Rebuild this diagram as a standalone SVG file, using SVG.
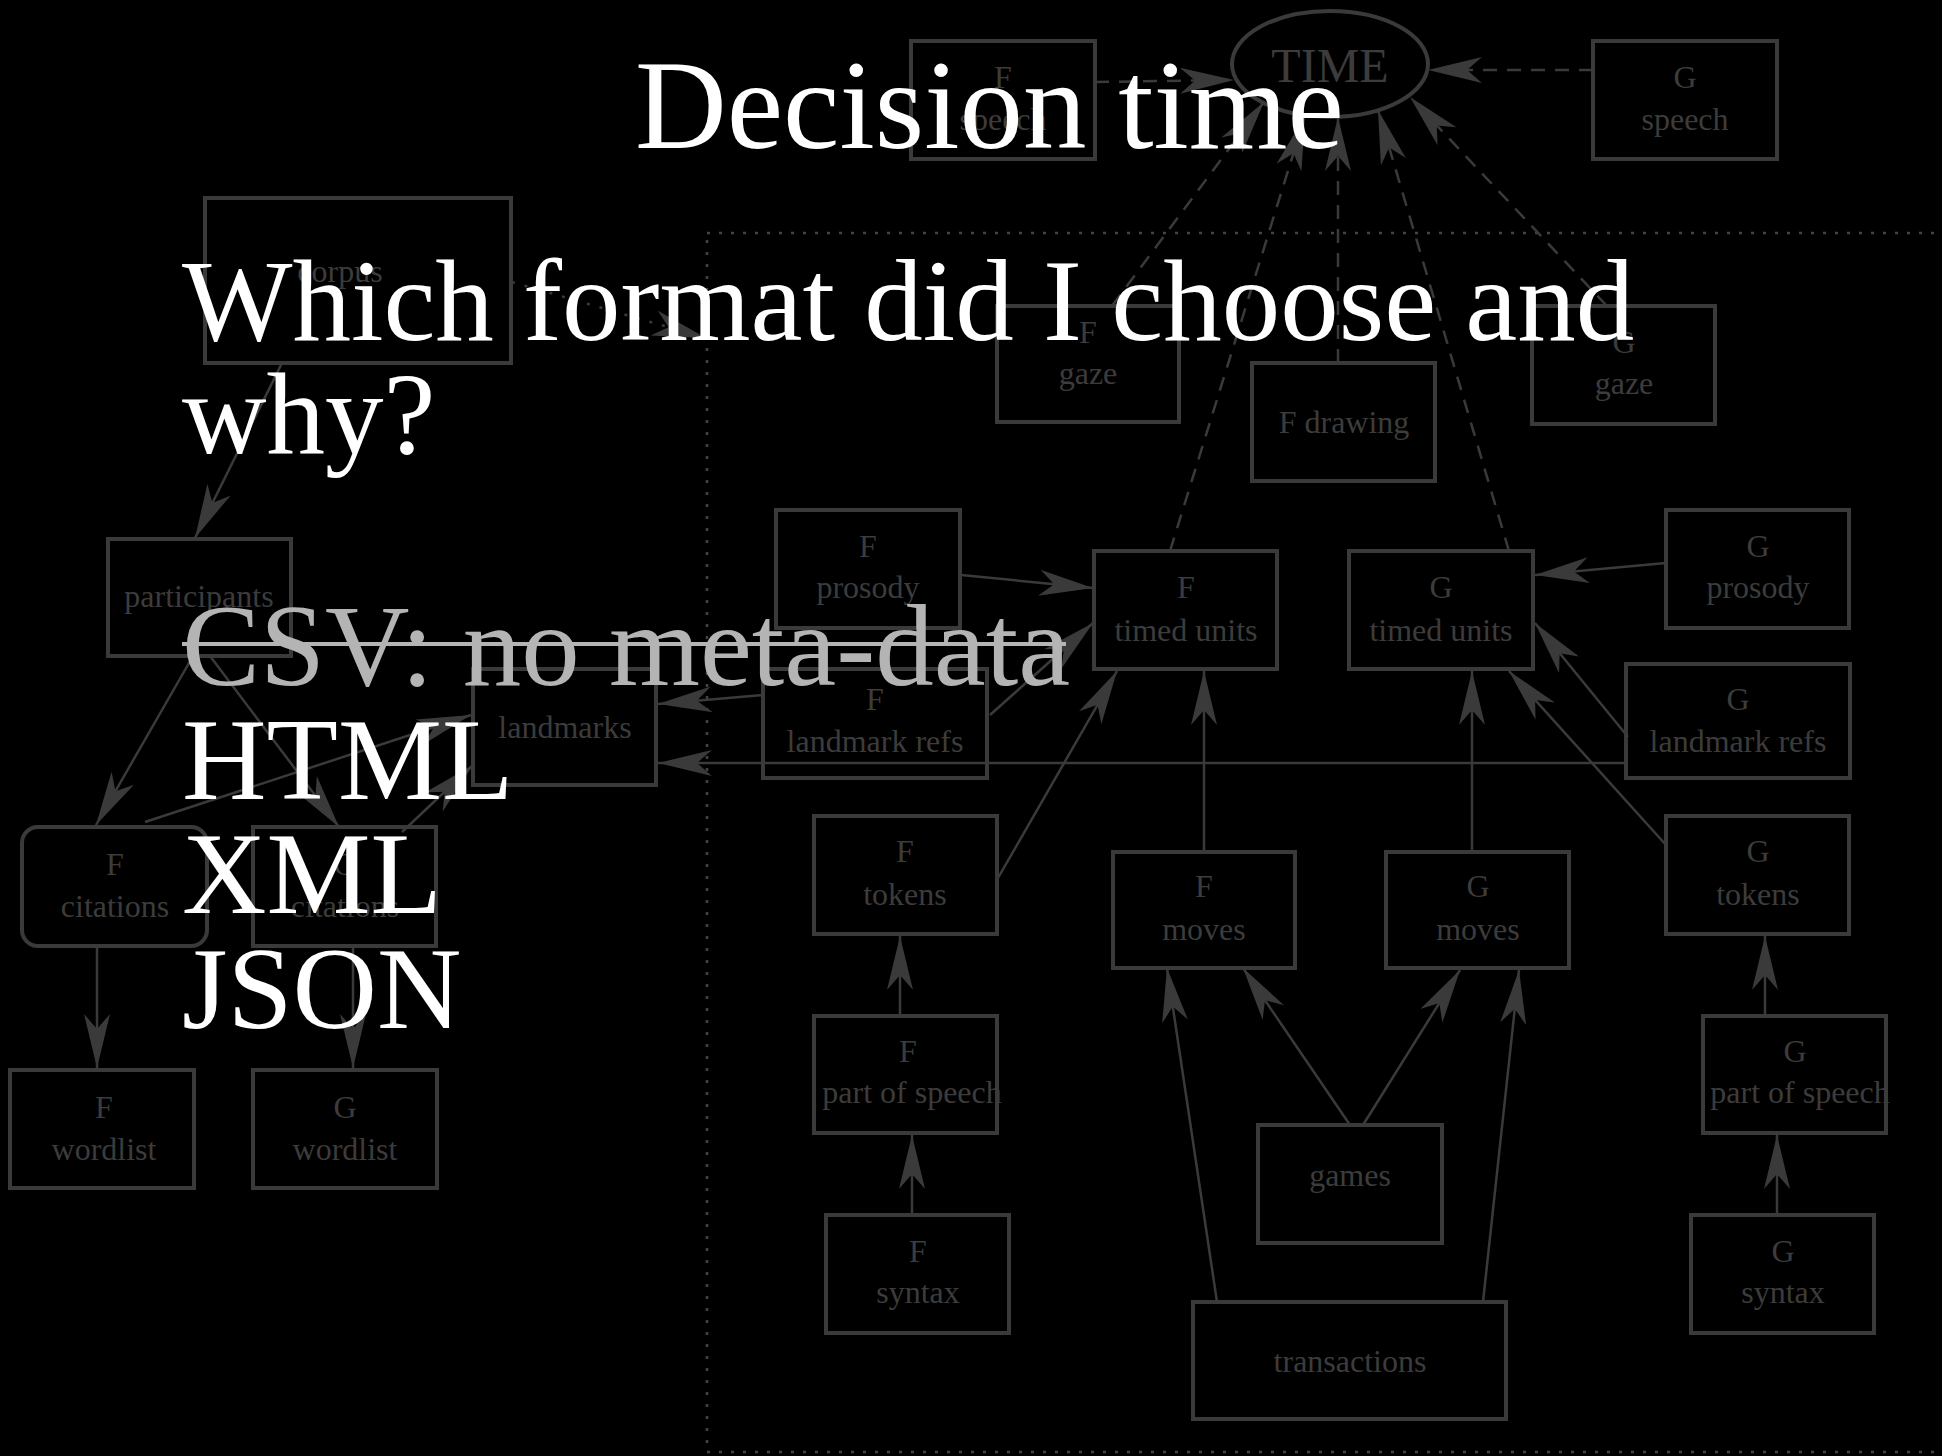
<svg xmlns="http://www.w3.org/2000/svg" width="1942" height="1456" viewBox="0 0 1942 1456">
<style>
.box{fill:none;stroke:#3a3a3a;stroke-width:4}
.lbl{font-family:"Liberation Serif",serif;font-size:32px;fill:#3c3c3c;text-anchor:middle}
.edge{stroke:#3a3a3a;stroke-width:2.5;fill:none;marker-end:url(#ah)}
.dash{stroke-dasharray:14 10}
.cluster{fill:none;stroke:#444;stroke-width:2.5;stroke-dasharray:3 9}
.main{font-family:"Liberation Serif",serif;fill:#fff;font-size:117px}
</style>
<defs>
<marker id="ah" markerUnits="userSpaceOnUse" viewBox="0 0 54 26" markerWidth="54" markerHeight="26" refX="54" refY="13" orient="auto">
<path d="M0,0 L54,13 L0,26 L15,13 Z" fill="#3a3a3a"/>
</marker>
</defs>
<rect x="0" y="0" width="1942" height="1456" fill="#000"/>

<rect id="cluster" class="cluster" x="707" y="233" width="1300" height="1219"/>

<g id="connectors">
<line class="edge dash" x1="1095" y1="82" x2="1234" y2="80"/>
<line class="edge dash" x1="1593" y1="70" x2="1428" y2="70"/>
<line class="edge dash" x1="1112" y1="306" x2="1264" y2="102"/>
<line class="edge dash" x1="1170" y1="551" x2="1305" y2="116"/>
<line class="edge dash" x1="1338" y1="363" x2="1338" y2="117"/>
<line class="edge dash" x1="1509" y1="551" x2="1378" y2="110"/>
<line class="edge dash" x1="1607" y1="306" x2="1410" y2="97"/>
<line class="edge" x1="282" y1="363" x2="195" y2="538"/>
<line class="edge" style="stroke-dasharray:3 10" x1="512" y1="282" x2="706" y2="338"/>
<line class="edge" x1="193" y1="656" x2="96" y2="825"/>
<line class="edge" x1="210" y1="656" x2="339" y2="827"/>
<line class="edge" x1="145" y1="822" x2="471" y2="715"/>
<line class="edge" x1="402" y1="832" x2="473" y2="765"/>
<line class="edge" x1="97" y1="946" x2="97" y2="1068"/>
<line class="edge" x1="353" y1="946" x2="353" y2="1068"/>
<line class="edge" x1="763" y1="695" x2="658" y2="704"/>
<line class="edge" x1="1626" y1="763" x2="658" y2="763"/>
<line class="edge" x1="961" y1="575" x2="1093" y2="588"/>
<line class="edge" x1="990" y1="715" x2="1093" y2="623"/>
<line class="edge" x1="998" y1="878" x2="1117" y2="671"/>
<line class="edge" x1="1204" y1="852" x2="1204" y2="671"/>
<line class="edge" x1="1666" y1="563" x2="1535" y2="575"/>
<line class="edge" x1="1628" y1="737" x2="1535" y2="623"/>
<line class="edge" x1="1666" y1="845" x2="1509" y2="671"/>
<line class="edge" x1="1472" y1="852" x2="1472" y2="671"/>
<line class="edge" x1="900" y1="1016" x2="900" y2="936"/>
<line class="edge" x1="912" y1="1215" x2="912" y2="1135"/>
<line class="edge" x1="1350" y1="1125" x2="1243" y2="968"/>
<line class="edge" x1="1363" y1="1125" x2="1460" y2="970"/>
<line class="edge" x1="1217" y1="1302" x2="1167" y2="968"/>
<line class="edge" x1="1483" y1="1302" x2="1519" y2="970"/>
<line class="edge" x1="1765" y1="1016" x2="1765" y2="936"/>
<line class="edge" x1="1777" y1="1215" x2="1777" y2="1135"/>
</g>

<g id="time"><ellipse class="box" cx="1330" cy="64" rx="98" ry="53"/><text class="lbl" x="1330" y="82" style="font-size:48px">TIME</text></g>
<g id="f-speech"><rect class="box" x="911" y="41" width="184" height="118"/><text class="lbl" x="1003" y="88">F</text><text class="lbl" x="1003" y="130">speech</text></g>
<g id="g-speech"><rect class="box" x="1593" y="41" width="184" height="118"/><text class="lbl" x="1685" y="88">G</text><text class="lbl" x="1685" y="130">speech</text></g>
<g id="corpus"><rect class="box" x="205" y="198" width="306" height="165"/><text class="lbl" x="340" y="282">corpus</text></g>
<g id="participants"><rect class="box" x="108" y="539" width="183" height="117"/><text class="lbl" x="199" y="607">participants</text></g>
<g id="landmarks"><rect class="box" x="473" y="669" width="183" height="116"/><text class="lbl" x="565" y="738">landmarks</text></g>
<g id="f-citations"><rect class="box" x="22" y="827" width="185" height="119" rx="16"/><text class="lbl" x="115" y="875">F</text><text class="lbl" x="115" y="917">citations</text></g>
<g id="g-citations"><rect class="box" x="253" y="827" width="183" height="119"/><text class="lbl" x="345" y="875">G</text><text class="lbl" x="345" y="917">citations</text></g>
<g id="f-wordlist"><rect class="box" x="10" y="1070" width="184" height="118"/><text class="lbl" x="104" y="1118">F</text><text class="lbl" x="104" y="1160">wordlist</text></g>
<g id="g-wordlist"><rect class="box" x="253" y="1070" width="184" height="118"/><text class="lbl" x="345" y="1118">G</text><text class="lbl" x="345" y="1160">wordlist</text></g>
<g id="f-gaze"><rect class="box" x="997" y="306" width="182" height="116"/><text class="lbl" x="1088" y="343">F</text><text class="lbl" x="1088" y="384">gaze</text></g>
<g id="f-drawing"><rect class="box" x="1252" y="363" width="183" height="118"/><text class="lbl" x="1344" y="433">F drawing</text></g>
<g id="g-gaze"><rect class="box" x="1532" y="306" width="183" height="118"/><text class="lbl" x="1624" y="353">G</text><text class="lbl" x="1624" y="394">gaze</text></g>
<g id="f-prosody"><rect class="box" x="776" y="510" width="184" height="118"/><text class="lbl" x="868" y="557">F</text><text class="lbl" x="868" y="598">prosody</text></g>
<g id="f-timed-units"><rect class="box" x="1094" y="551" width="183" height="118"/><text class="lbl" x="1186" y="598">F</text><text class="lbl" x="1186" y="641">timed units</text></g>
<g id="g-timed-units"><rect class="box" x="1349" y="551" width="184" height="118"/><text class="lbl" x="1441" y="598">G</text><text class="lbl" x="1441" y="641">timed units</text></g>
<g id="g-prosody"><rect class="box" x="1666" y="510" width="183" height="118"/><text class="lbl" x="1758" y="557">G</text><text class="lbl" x="1758" y="598">prosody</text></g>
<g id="f-landmark-refs"><rect class="box" x="763" y="669" width="224" height="109"/><text class="lbl" x="875" y="710">F</text><text class="lbl" x="875" y="752">landmark refs</text></g>
<g id="g-landmark-refs"><rect class="box" x="1626" y="664" width="224" height="114"/><text class="lbl" x="1738" y="710">G</text><text class="lbl" x="1738" y="752">landmark refs</text></g>
<g id="f-tokens"><rect class="box" x="814" y="816" width="183" height="118"/><text class="lbl" x="905" y="862">F</text><text class="lbl" x="905" y="905">tokens</text></g>
<g id="f-moves"><rect class="box" x="1113" y="852" width="182" height="116"/><text class="lbl" x="1204" y="897">F</text><text class="lbl" x="1204" y="940">moves</text></g>
<g id="g-moves"><rect class="box" x="1386" y="852" width="183" height="116"/><text class="lbl" x="1478" y="897">G</text><text class="lbl" x="1478" y="940">moves</text></g>
<g id="g-tokens"><rect class="box" x="1666" y="816" width="183" height="118"/><text class="lbl" x="1758" y="862">G</text><text class="lbl" x="1758" y="905">tokens</text></g>
<g id="f-part-of-speech"><rect class="box" x="814" y="1016" width="183" height="117"/><text class="lbl" x="908" y="1062">F</text><text class="lbl" x="912" y="1103">part of speech</text></g>
<g id="g-part-of-speech"><rect class="box" x="1703" y="1016" width="183" height="117"/><text class="lbl" x="1795" y="1062">G</text><text class="lbl" x="1800" y="1103">part of speech</text></g>
<g id="games"><rect class="box" x="1258" y="1125" width="184" height="118"/><text class="lbl" x="1350" y="1186">games</text></g>
<g id="f-syntax"><rect class="box" x="826" y="1215" width="183" height="118"/><text class="lbl" x="918" y="1262">F</text><text class="lbl" x="918" y="1303">syntax</text></g>
<g id="g-syntax"><rect class="box" x="1691" y="1215" width="183" height="118"/><text class="lbl" x="1783" y="1262">G</text><text class="lbl" x="1783" y="1303">syntax</text></g>
<g id="transactions"><rect class="box" x="1193" y="1302" width="313" height="117"/><text class="lbl" x="1350" y="1372">transactions</text></g>

<g id="slide-text">
<text class="main" x="635" y="148" style="font-size:127px">Decision time</text>
<text class="main" x="182" y="340">Which format did I choose and</text>
<text class="main" x="182" y="453">why?</text>
<text class="main" x="182" y="685" style="fill:#b4b4b4">CSV: no meta-data</text>
<line x1="182" y1="644" x2="1066" y2="644" stroke="#b4b4b4" stroke-width="4"/>
<text class="main" x="182" y="799">HTML</text>
<text class="main" x="182" y="913">XML</text>
<text class="main" x="182" y="1028">JSON</text>
</g>
</svg>
